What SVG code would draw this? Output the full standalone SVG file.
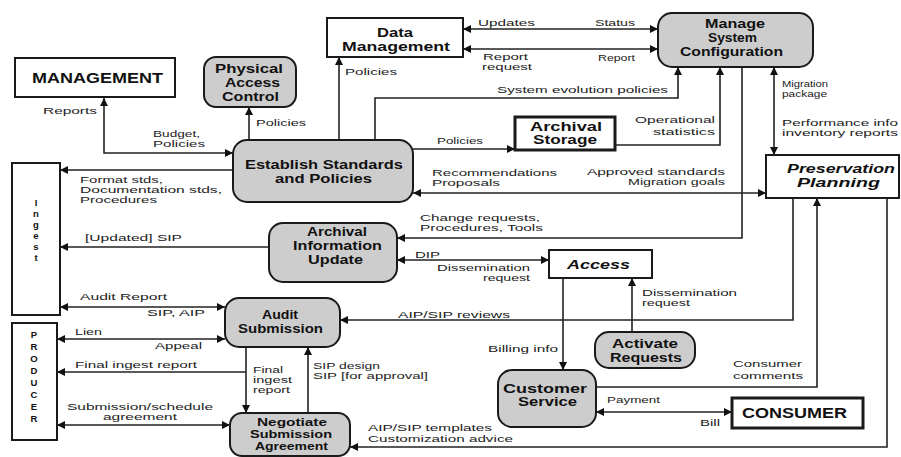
<svg xmlns="http://www.w3.org/2000/svg" width="901" height="457" viewBox="0 0 901 457">
  <style>
    .bg { fill: #ffffff; }
    .box { fill: #ffffff; stroke: #1a1a1a; stroke-width: 2; }
    .heavy { stroke-width: 3; }
    .proc { fill: #cdcdcd; stroke: #1a1a1a; stroke-width: 2; }
    .t { font-family: "Liberation Sans", Arial, sans-serif; font-weight: bold; font-size: 12px; fill: #111111; }
    .big { font-size: 14px; }
    .it { font-style: italic; }
    .sm { font-size: 10px; }
    .l { font-family: "Liberation Sans", Arial, sans-serif; font-size: 9.5px; fill: #222222; }
    .ls { font-size: 8.5px; }
    .v { font-family: "Liberation Sans", Arial, sans-serif; font-weight: bold; font-size: 9.5px; fill: #111111; text-anchor: middle; }
    #connectors path { fill: none; stroke: #222222; stroke-width: 1.6; }
  </style>
  <defs>
    <marker id="ah" viewBox="0 0 10 10" refX="10" refY="5" markerWidth="9" markerHeight="8" markerUnits="userSpaceOnUse" orient="auto-start-reverse">
      <path d="M0,0 L10,5 L0,10 z" fill="#111111"/>
    </marker>
  </defs>
  <rect class="bg" x="0" y="0" width="901" height="457"/>

  <!-- connectors -->
  <g id="connectors">
    <path d="M104,98 V153 H233" marker-start="url(#ah)" marker-end="url(#ah)"/>
    <path d="M249,140 V107" marker-end="url(#ah)"/>
    <path d="M339,140 V57" marker-end="url(#ah)"/>
    <path d="M375,140 V98 H678 V67" marker-end="url(#ah)"/>
    <path d="M463,29 H658" marker-start="url(#ah)" marker-end="url(#ah)"/>
    <path d="M463,49 H658" marker-start="url(#ah)" marker-end="url(#ah)"/>
    <path d="M413,149 H515" marker-end="url(#ah)"/>
    <path d="M615,145 H720 V67" marker-end="url(#ah)"/>
    <path d="M742,67 V238 H397" marker-end="url(#ah)"/>
    <path d="M413,193 H766" marker-start="url(#ah)" marker-end="url(#ah)"/>
    <path d="M774,67 V155" marker-start="url(#ah)" marker-end="url(#ah)"/>
    <path d="M233,170 H60" marker-end="url(#ah)"/>
    <path d="M269,247 H60" marker-end="url(#ah)"/>
    <path d="M397,260 H549" marker-start="url(#ah)" marker-end="url(#ah)"/>
    <path d="M60,307 H225" marker-start="url(#ah)" marker-end="url(#ah)"/>
    <path d="M57,339 H225" marker-start="url(#ah)" marker-end="url(#ah)"/>
    <path d="M246,347 V413" marker-end="url(#ah)"/>
    <path d="M246,372 H57" marker-end="url(#ah)"/>
    <path d="M308,413 V347" marker-end="url(#ah)"/>
    <path d="M57,425 H230" marker-start="url(#ah)" marker-end="url(#ah)"/>
    <path d="M793,198 V320 H340" marker-end="url(#ah)"/>
    <path d="M563,278 V370" marker-end="url(#ah)"/>
    <path d="M632,332 V278" marker-end="url(#ah)"/>
    <path d="M596,387 H817 V198" marker-end="url(#ah)"/>
    <path d="M596,412 H732" marker-start="url(#ah)" marker-end="url(#ah)"/>
    <path d="M887,198 V447 H350" marker-end="url(#ah)"/>
  </g>

  <!-- connector labels -->
  <g id="labels">
    <text class="l" x="43" y="114" textLength="54" lengthAdjust="spacingAndGlyphs">Reports</text>
    <text class="l" x="153" y="137" textLength="47" lengthAdjust="spacingAndGlyphs">Budget,</text>
    <text class="l" x="153" y="147" textLength="52" lengthAdjust="spacingAndGlyphs">Policies</text>
    <text class="l" x="256" y="126" textLength="50" lengthAdjust="spacingAndGlyphs">Policies</text>
    <text class="l" x="345" y="75" textLength="52" lengthAdjust="spacingAndGlyphs">Policies</text>
    <text class="l" x="478" y="26" textLength="57" lengthAdjust="spacingAndGlyphs">Updates</text>
    <text class="l" x="595" y="26" textLength="40" lengthAdjust="spacingAndGlyphs">Status</text>
    <text class="l" x="483" y="60" textLength="45" lengthAdjust="spacingAndGlyphs">Report</text>
    <text class="l" x="482" y="70" textLength="50" lengthAdjust="spacingAndGlyphs">request</text>
    <text class="l" x="598" y="61" textLength="37" lengthAdjust="spacingAndGlyphs">Report</text>
    <text class="l" x="497" y="93" textLength="171" lengthAdjust="spacingAndGlyphs">System evolution policies</text>
    <text class="l" x="437" y="144" textLength="46" lengthAdjust="spacingAndGlyphs">Policies</text>
    <text class="l" x="635" y="123" textLength="80" lengthAdjust="spacingAndGlyphs">Operational</text>
    <text class="l" x="653" y="135" textLength="62" lengthAdjust="spacingAndGlyphs">statistics</text>
    <text class="l" x="782" y="87" textLength="46" lengthAdjust="spacingAndGlyphs">Migration</text>
    <text class="l" x="782" y="97" textLength="45" lengthAdjust="spacingAndGlyphs">package</text>
    <text class="l" x="782" y="126" textLength="116" lengthAdjust="spacingAndGlyphs">Performance info</text>
    <text class="l" x="782" y="136" textLength="116" lengthAdjust="spacingAndGlyphs">inventory reports</text>
    <text class="l" x="80" y="183" textLength="83" lengthAdjust="spacingAndGlyphs">Format stds,</text>
    <text class="l" x="80" y="193" textLength="142" lengthAdjust="spacingAndGlyphs">Documentation stds,</text>
    <text class="l" x="80" y="203" textLength="77" lengthAdjust="spacingAndGlyphs">Procedures</text>
    <text class="l" x="432" y="176" textLength="125" lengthAdjust="spacingAndGlyphs">Recommendations</text>
    <text class="l" x="432" y="186" textLength="68" lengthAdjust="spacingAndGlyphs">Proposals</text>
    <text class="l" x="587" y="175" textLength="138" lengthAdjust="spacingAndGlyphs">Approved standards</text>
    <text class="l" x="628" y="185" textLength="97" lengthAdjust="spacingAndGlyphs">Migration goals</text>
    <text class="l" x="85" y="241" textLength="97" lengthAdjust="spacingAndGlyphs">[Updated] SIP</text>
    <text class="l" x="420" y="221" textLength="120" lengthAdjust="spacingAndGlyphs">Change requests,</text>
    <text class="l" x="420" y="231" textLength="123" lengthAdjust="spacingAndGlyphs">Procedures, Tools</text>
    <text class="l" x="415" y="258" textLength="25" lengthAdjust="spacingAndGlyphs">DIP</text>
    <text class="l" x="437" y="271" textLength="93" lengthAdjust="spacingAndGlyphs">Dissemination</text>
    <text class="l" x="483" y="281" textLength="47" lengthAdjust="spacingAndGlyphs">request</text>
    <text class="l" x="642" y="296" textLength="95" lengthAdjust="spacingAndGlyphs">Dissemination</text>
    <text class="l" x="642" y="306" textLength="48" lengthAdjust="spacingAndGlyphs">request</text>
    <text class="l" x="80" y="300" textLength="87" lengthAdjust="spacingAndGlyphs">Audit Report</text>
    <text class="l" x="147" y="316" textLength="58" lengthAdjust="spacingAndGlyphs">SIP, AIP</text>
    <text class="l" x="75" y="335" textLength="27" lengthAdjust="spacingAndGlyphs">Lien</text>
    <text class="l" x="155" y="349" textLength="47" lengthAdjust="spacingAndGlyphs">Appeal</text>
    <text class="l" x="75" y="368" textLength="122" lengthAdjust="spacingAndGlyphs">Final ingest report</text>
    <text class="l ls" x="253" y="373" textLength="30" lengthAdjust="spacingAndGlyphs">Final</text>
    <text class="l ls" x="253" y="383" textLength="39" lengthAdjust="spacingAndGlyphs">ingest</text>
    <text class="l ls" x="253" y="393" textLength="37" lengthAdjust="spacingAndGlyphs">report</text>
    <text class="l" x="313" y="369" textLength="67" lengthAdjust="spacingAndGlyphs">SIP design</text>
    <text class="l" x="313" y="379" textLength="115" lengthAdjust="spacingAndGlyphs">SIP [for approval]</text>
    <text class="l" x="67" y="410" textLength="146" lengthAdjust="spacingAndGlyphs">Submission/schedule</text>
    <text class="l" x="103" y="420" textLength="74" lengthAdjust="spacingAndGlyphs">agreement</text>
    <text class="l" x="398" y="318" textLength="112" lengthAdjust="spacingAndGlyphs">AIP/SIP reviews</text>
    <text class="l" x="488" y="352" textLength="70" lengthAdjust="spacingAndGlyphs">Billing info</text>
    <text class="l" x="733" y="367" textLength="69" lengthAdjust="spacingAndGlyphs">Consumer</text>
    <text class="l" x="733" y="379" textLength="70" lengthAdjust="spacingAndGlyphs">comments</text>
    <text class="l" x="607" y="403" textLength="53" lengthAdjust="spacingAndGlyphs">Payment</text>
    <text class="l" x="700" y="426" textLength="20" lengthAdjust="spacingAndGlyphs">Bill</text>
    <text class="l" x="368" y="431" textLength="124" lengthAdjust="spacingAndGlyphs">AIP/SIP templates</text>
    <text class="l" x="368" y="442" textLength="145" lengthAdjust="spacingAndGlyphs">Customization advice</text>
  </g>

  <!-- nodes -->
  <g id="management">
    <rect class="box" x="15" y="58" width="160" height="39"/>
    <text class="t big" x="32" y="83" textLength="131" lengthAdjust="spacingAndGlyphs">MANAGEMENT</text>
  </g>
  <g id="physical-access-control">
    <rect class="proc" x="204" y="57" width="92" height="50" rx="12"/>
    <text class="t" x="215" y="73" textLength="68" lengthAdjust="spacingAndGlyphs">Physical</text>
    <text class="t" x="225" y="87" textLength="55" lengthAdjust="spacingAndGlyphs">Access</text>
    <text class="t" x="222" y="101" textLength="57" lengthAdjust="spacingAndGlyphs">Control</text>
  </g>
  <g id="data-management">
    <rect class="box" x="327" y="18" width="136" height="39"/>
    <text class="t" x="377" y="37" textLength="36" lengthAdjust="spacingAndGlyphs">Data</text>
    <text class="t" x="342" y="51" textLength="108" lengthAdjust="spacingAndGlyphs">Management</text>
  </g>
  <g id="manage-system-configuration">
    <rect class="proc" x="658" y="13" width="155" height="54" rx="14"/>
    <text class="t" x="705" y="28" textLength="60" lengthAdjust="spacingAndGlyphs">Manage</text>
    <text class="t" x="708" y="42" textLength="49" lengthAdjust="spacingAndGlyphs">System</text>
    <text class="t" x="680" y="56" textLength="103" lengthAdjust="spacingAndGlyphs">Configuration</text>
  </g>
  <g id="archival-storage">
    <rect class="box heavy" x="515" y="117" width="100" height="33"/>
    <text class="t" x="530" y="131" textLength="72" lengthAdjust="spacingAndGlyphs">Archival</text>
    <text class="t" x="533" y="144" textLength="64" lengthAdjust="spacingAndGlyphs">Storage</text>
  </g>
  <g id="establish-standards">
    <rect class="proc" x="233" y="140" width="180" height="62" rx="14"/>
    <text class="t" x="245" y="169" textLength="158" lengthAdjust="spacingAndGlyphs">Establish Standards</text>
    <text class="t" x="275" y="183" textLength="97" lengthAdjust="spacingAndGlyphs">and Policies</text>
  </g>
  <g id="preservation-planning">
    <rect class="box" x="766" y="155" width="133" height="43"/>
    <text class="t it" x="787" y="173" textLength="108" lengthAdjust="spacingAndGlyphs">Preservation</text>
    <text class="t it" x="797" y="187" textLength="83" lengthAdjust="spacingAndGlyphs">Planning</text>
  </g>
  <g id="ingest">
    <rect class="box" x="12" y="163" width="48" height="152"/>
    <text class="v" x="36" y="206">I</text>
    <text class="v" x="36" y="217">n</text>
    <text class="v" x="36" y="228">g</text>
    <text class="v" x="36" y="239">e</text>
    <text class="v" x="36" y="250">s</text>
    <text class="v" x="36" y="261">t</text>
  </g>
  <g id="producer">
    <rect class="box" x="12" y="323" width="45" height="117"/>
    <text class="v" x="34" y="338">P</text>
    <text class="v" x="34" y="350">R</text>
    <text class="v" x="34" y="362">O</text>
    <text class="v" x="34" y="374">D</text>
    <text class="v" x="34" y="386">U</text>
    <text class="v" x="34" y="398">C</text>
    <text class="v" x="34" y="410">E</text>
    <text class="v" x="34" y="422">R</text>
  </g>
  <g id="archival-information-update">
    <rect class="proc" x="269" y="223" width="128" height="59" rx="14"/>
    <text class="t" x="307" y="236" textLength="60" lengthAdjust="spacingAndGlyphs">Archival</text>
    <text class="t" x="293" y="250" textLength="89" lengthAdjust="spacingAndGlyphs">Information</text>
    <text class="t" x="308" y="264" textLength="55" lengthAdjust="spacingAndGlyphs">Update</text>
  </g>
  <g id="access">
    <rect class="box" x="549" y="250" width="103" height="28"/>
    <text class="t it" x="567" y="269" textLength="63" lengthAdjust="spacingAndGlyphs">Access</text>
  </g>
  <g id="audit-submission">
    <rect class="proc" x="225" y="298" width="115" height="49" rx="14"/>
    <text class="t" x="262" y="319" textLength="36" lengthAdjust="spacingAndGlyphs">Audit</text>
    <text class="t" x="238" y="333" textLength="85" lengthAdjust="spacingAndGlyphs">Submission</text>
  </g>
  <g id="activate-requests">
    <rect class="proc" x="595" y="332" width="100" height="36" rx="14"/>
    <text class="t" x="612" y="348" textLength="66" lengthAdjust="spacingAndGlyphs">Activate</text>
    <text class="t" x="610" y="362" textLength="72" lengthAdjust="spacingAndGlyphs">Requests</text>
  </g>
  <g id="customer-service">
    <rect class="proc" x="498" y="370" width="98" height="57" rx="14"/>
    <text class="t" x="503" y="393" textLength="84" lengthAdjust="spacingAndGlyphs">Customer</text>
    <text class="t" x="518" y="406" textLength="59" lengthAdjust="spacingAndGlyphs">Service</text>
  </g>
  <g id="consumer">
    <rect class="box heavy" x="732" y="398" width="131" height="30"/>
    <text class="t big" x="742" y="418" textLength="105" lengthAdjust="spacingAndGlyphs">CONSUMER</text>
  </g>
  <g id="negotiate-submission-agreement">
    <rect class="proc" x="230" y="413" width="120" height="43" rx="12"/>
    <text class="t sm" x="257" y="426" textLength="70" lengthAdjust="spacingAndGlyphs">Negotiate</text>
    <text class="t sm" x="250" y="438" textLength="82" lengthAdjust="spacingAndGlyphs">Submission</text>
    <text class="t sm" x="255" y="450" textLength="73" lengthAdjust="spacingAndGlyphs">Agreement</text>
  </g>
</svg>
